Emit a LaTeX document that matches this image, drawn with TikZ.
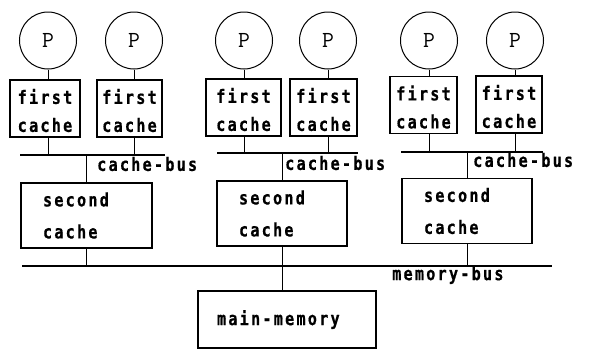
\documentclass[tikz,border=0pt]{standalone}
\usepackage{fontspec}
\newfontfamily\labfont{DejaVu Sans Mono}[FakeStretch=0.82,LetterSpace=12,FakeBold=0.6]
\tikzset{
  proc/.style={circle, draw, line width=1pt, minimum size=57pt, inner sep=0pt,
    font=\ttfamily\fontsize{23}{23}\selectfont},
  lab/.style={font=\labfont\bfseries\fontsize{18.5}{28}\selectfont, inner sep=0pt},
  firstbox/.style={draw, line width=1.2pt, inner sep=0pt, align=center,
    minimum height=57pt, font=\labfont\bfseries\fontsize{18.5}{28}\selectfont},
  secondbox/.style={draw, line width=1.2pt, inner ysep=0pt, inner xsep=22pt,
    minimum height=65pt, align=left,
    font=\labfont\bfseries\fontsize{18.5}{32}\selectfont},
  bus/.style={line width=1.6pt},
  link/.style={line width=1pt},
}
% a strut that lowers two-line box text slightly
\newcommand\lowstrut{\rule{0pt}{19pt}}
\begin{document}
\begin{tikzpicture}[x=1pt,y=-1pt]
\useasboundingbox (0,0) rectangle (590,354);

% processors
\node[proc] (p1) at (48,40.5)  {P};
\node[proc] (p2) at (134,40.5) {P};
\node[proc] (p3) at (244,40.5) {P};
\node[proc] (p4) at (328,40.5) {P};
\node[proc] (p5) at (429,40.5) {P};
\node[proc] (p6) at (515,40.5) {P};

% first-level caches
\node[firstbox, minimum width=70pt] (f1) at (45,108.5)    {\lowstrut first\\cache};
\node[firstbox, minimum width=65pt] (f2) at (129.5,108.5) {\lowstrut first\\cache};
\node[firstbox, minimum width=75pt] (f3) at (243.5,107.5) {\lowstrut first\\cache};
\node[firstbox, minimum width=67pt] (f4) at (323.5,107.5) {\lowstrut first\\cache};
\node[firstbox, minimum width=67pt] (f5) at (423.5,105)   {\lowstrut first\\cache};
\node[firstbox, minimum width=66pt] (f6) at (509,104.5)   {\lowstrut first\\cache};

% cache buses
\coordinate (b1l) at (20,155);  \coordinate (b1r) at (165,155);
\coordinate (b2l) at (217,153); \coordinate (b2r) at (358,153);
\coordinate (b3l) at (401,152); \coordinate (b3r) at (543,152);
\draw[bus] (b1l) -- (b1r);
\draw[bus] (b2l) -- (b2r);
\draw[bus] (b3l) -- (b3r);

% second-level caches
\node[secondbox, text width=87pt] (s1) at (86.5,215.5) {second\\cache};
\node[secondbox, text width=86pt] (s2) at (282,213.5)  {second\\cache};
\node[secondbox, text width=86pt] (s3) at (467,211)    {second\\cache};

% memory bus and main memory
\coordinate (ml) at (22,266); \coordinate (mr) at (552,266);
\draw[bus] (ml) -- (mr);
\node[draw, line width=1.2pt, minimum width=178pt, minimum height=57pt,
  inner xsep=19pt, text width=140pt, align=left,
  font=\labfont\bfseries\fontsize{18.5}{28}\selectfont] (mm) at (287,319.5) {main-memory};

% bus labels
\node[lab, anchor=west] (l1) at (97,164)  {cache-bus};
\node[lab, anchor=west] (l2) at (285,163) {cache-bus};
\node[lab, anchor=west] (l3) at (473,160) {cache-bus};
\node[lab, anchor=west] (l4) at (392,275) {memory-bus};

% processor to first cache
\foreach \p/\f in {p1/f1,p2/f2,p3/f3,p4/f4,p5/f5,p6/f6}{
  \draw[link] (\p.south) -- (\p.south |- \f.north);
}
% first cache to cache bus
\draw[link] (p1.south |- f1.south) -- (p1.south |- b1l);
\draw[link] (p2.south |- f2.south) -- (p2.south |- b1l);
\draw[link] (p3.south |- f3.south) -- (p3.south |- b2l);
\draw[link] (p4.south |- f4.south) -- (p4.south |- b2l);
\draw[link] (p5.south |- f5.south) -- (p5.south |- b3l);
\draw[link] (p6.south |- f6.south) -- (p6.south |- b3l);
% cache bus to second cache, second cache to memory bus
\draw[link] (s1.north |- b1l) -- (s1.north);
\draw[link] (s2.north |- b2l) -- (s2.north);
\draw[link] (s3.north |- b3l) -- (s3.north);
\draw[link] (s1.south) -- (s1.south |- ml);
\draw[link] (s2.south) -- (s2.south |- ml);
\draw[link] (s3.south) -- (s3.south |- ml);
% memory bus to main memory
\draw[link] (s2.south |- ml) -- (s2.south |- mm.north);
\end{tikzpicture}
\end{document}
